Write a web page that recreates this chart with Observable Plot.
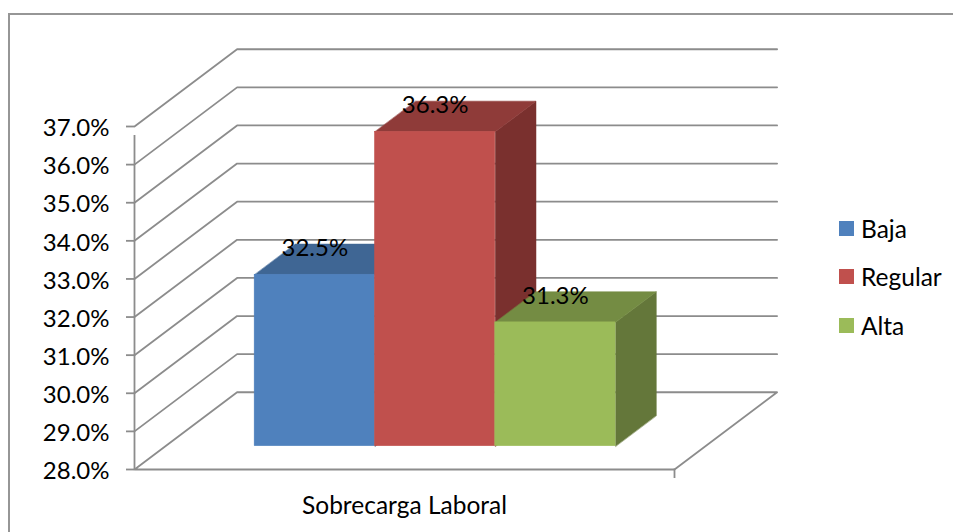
<!DOCTYPE html>
<html>
<head>
<meta charset="utf-8">
<script src="https://cdn.jsdelivr.net/npm/d3@7"></script>
<script src="https://cdn.jsdelivr.net/npm/@observablehq/plot@0.6"></script>
<style>
html,body{margin:0;padding:0;background:#fff;overflow:hidden}
#wrap{position:relative;width:953px;height:532px;font-family:Lato,sans-serif;color:#000}
#border{position:absolute;left:8px;top:13px;right:0;bottom:-5px;border-left:2px solid #969696;border-top:2px solid #969696}
svg{display:block;position:absolute;left:0;top:0;background:transparent!important}
.lg{position:absolute;display:flex;align-items:center;font-size:24.5px;height:16px;left:839px}
.lg i{display:block;width:15px;height:15px;margin-right:7px}
</style>
</head>
<body>
<div id="wrap"><div id="border"></div><div id="chart"></div></div>
<script>
const categories = ["Baja", "Regular", "Alta"];
const values = [32.5, 36.25, 31.25];
const valueLabels = ["32.5%", "36.3%", "31.3%"];
const frontColors = ["#4F81BD", "#C0504D", "#9BBB59"];
const topColors = ["#3F6694", "#8F3B39", "#748C43"];
const sideColors = ["#33547A", "#7A302E", "#64773A"];
const yTicks = [28, 29, 30, 31, 32, 33, 34, 35, 36, 37];
const axisCategory = "Sobrecarga Laboral";

// oblique projection of the chart's 3D box: z = 0 front, z = 1 back wall
const depthX = 0.19, depthY = 2.027;
const at = (x, y, z) => ({x: x + z * depthX, y: y + z * depthY});
// bar positions are measured along the bars' own front plane
const barStart = 0.2225, barWidth = 0.2228, barZ0 = 0.3014, barDepth = 0.397;
const floor = 28;
const grey = "#8c8c8c";
const lineW = 1.8;
const barAt = (x, y, dz) => ({x: x + dz * depthX, y: y + (barZ0 + dz) * depthY});

const gridMarks = yTicks.map(t => Plot.line(
  t === floor
    ? [at(0, t, 0), at(1, t, 0), at(1, t, 1), at(0, t, 1), at(0, t, 0)]
    : [at(0, t, 0), at(0, t, 1), at(1, t, 1)],
  {x: "x", y: "y", stroke: grey, strokeWidth: lineW}
));

const barMarks = categories.flatMap((c, i) => {
  const x0 = barStart + i * barWidth, x1 = x0 + barWidth, v = values[i];
  const side = [barAt(x1, floor, 0), barAt(x1, v, 0), barAt(x1, v, barDepth), barAt(x1, floor, barDepth)];
  const top = [barAt(x0, v, 0), barAt(x1, v, 0), barAt(x1, v, barDepth), barAt(x0, v, barDepth)];
  const poly = (pts, color) => Plot.line(pts, {x: "x", y: "y", fill: color, stroke: color, strokeWidth: 0.5, curve: "linear-closed"});
  return [
    poly(side, sideColors[i]),
    poly(top, topColors[i]),
    Plot.rect([{x1: x0, x2: x1, y1: barAt(0, floor, 0).y, y2: barAt(0, v, 0).y}],
      {x1: "x1", x2: "x2", y1: "y1", y2: "y2", fill: frontColors[i], stroke: frontColors[i], strokeWidth: 0.5})
  ];
});

const labelRows = categories.map((c, i) => ({
  x: barStart + (i + 0.5) * barWidth,
  y: barAt(0, values[i], 0).y,
  t: valueLabels[i]
}));

const chart = Plot.plot({
  width: 953, height: 532,
  marginLeft: 134, marginRight: 279, marginTop: 126, marginBottom: 63,
  style: {background: "transparent"},
  x: {domain: [0, 1], axis: null},
  y: {domain: [28, 37], label: null},
  marks: [
    ...gridMarks,
    Plot.ruleX([0], {y1: 28, y2: 37, stroke: grey, strokeWidth: lineW, insetBottom: -9}),
    Plot.ruleX([1], {y1: 28, y2: 28.25, stroke: grey, strokeWidth: lineW, insetBottom: -9, insetTop: 9}),
    Plot.axisY({ticks: yTicks, tickSize: 8, tickFormat: () => "", stroke: grey, strokeWidth: lineW}),
    Plot.axisY({ticks: yTicks, tickSize: 0, tickPadding: 25, dy: 2, tickFormat: d => d.toFixed(1) + "%", fontSize: 24, fill: "#000", fontFamily: "Lato", label: null}),
    ...barMarks,
    Plot.text(labelRows, {x: "x", y: "y", text: "t", dy: -26, fontSize: 24, fill: "#000", fontFamily: "Lato"}),
    Plot.text([axisCategory], {x: () => 0.5, y: () => 28, dy: 37, fontSize: 24.5, fill: "#000", fontFamily: "Lato"})
  ]
});
document.getElementById("chart").append(chart);

const wrap = document.getElementById("wrap");
categories.forEach((c, i) => {
  const d = document.createElement("div");
  d.className = "lg";
  d.style.top = (220 + i * 48.5) + "px";
  const sw = document.createElement("i");
  sw.style.background = frontColors[i];
  d.append(sw, document.createTextNode(c));
  wrap.append(d);
});
</script>
</body>
</html>
